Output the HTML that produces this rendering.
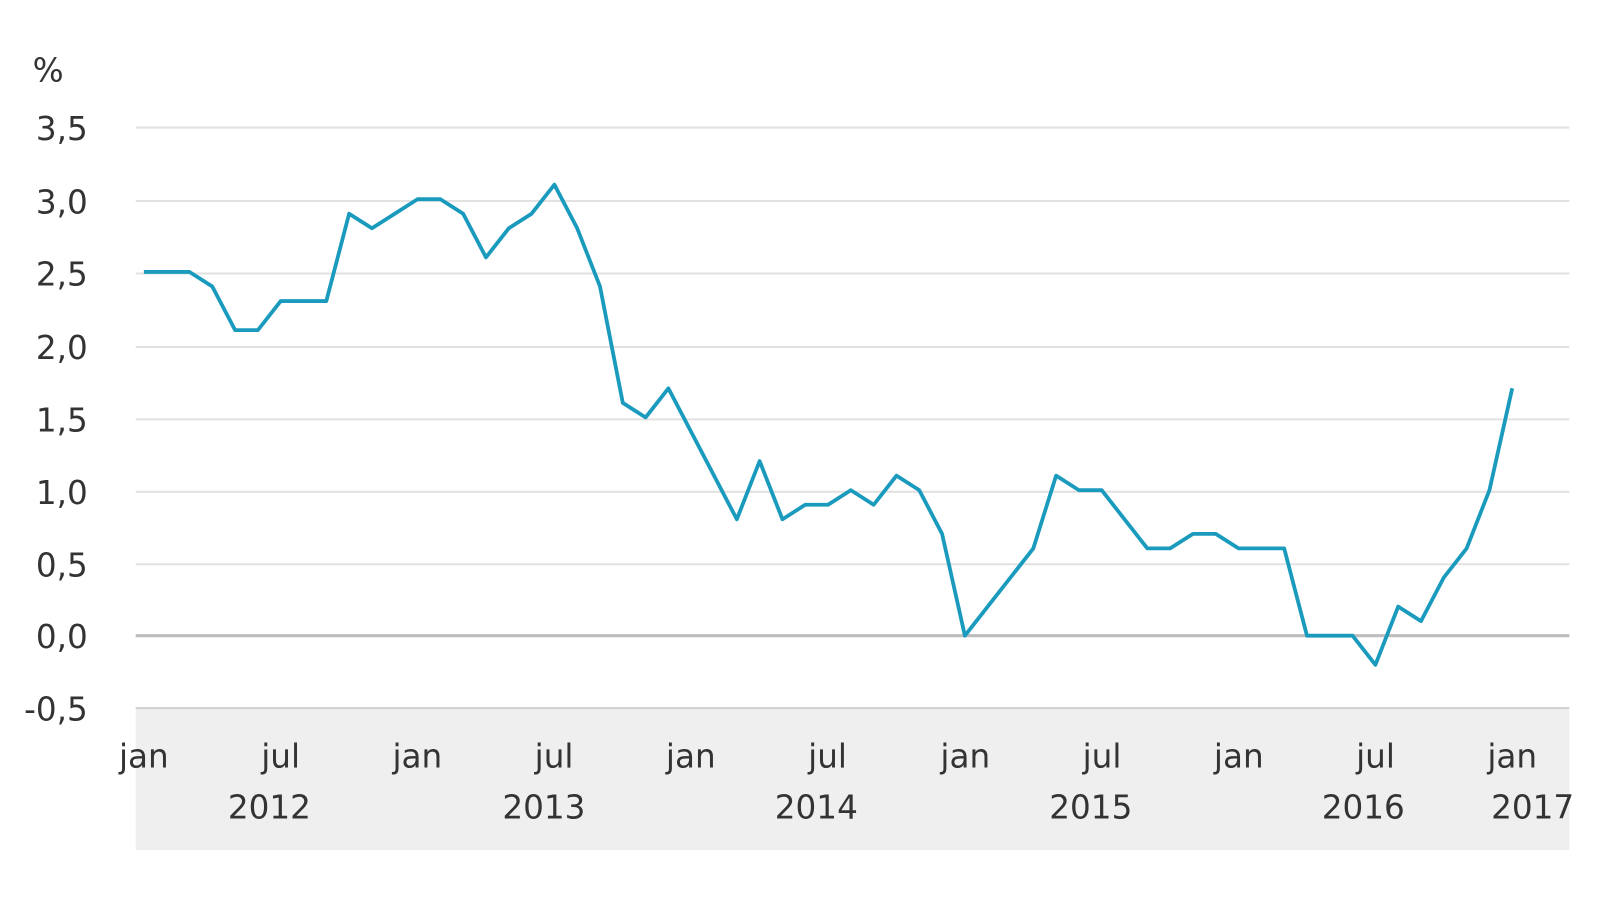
<!DOCTYPE html>
<html><head><meta charset="utf-8"><style>
html,body{margin:0;padding:0;background:#fff;}
svg{display:block;}
text{font-family:"DejaVu Sans","Liberation Sans",sans-serif;fill:#333;font-size:32px;}
</style></head><body>
<svg width="1600" height="900" viewBox="0 0 1600 900">
<g transform="scale(1.0204)">
<rect x="133" y="695" width="1405" height="138" fill="#efefef"/>
<g stroke="#e2e2e2" stroke-width="2">
<line x1="133" x2="1538" y1="125" y2="125"/>
<line x1="133" x2="1538" y1="197" y2="197"/>
<line x1="133" x2="1538" y1="268" y2="268"/>
<line x1="133" x2="1538" y1="340" y2="340"/>
<line x1="133" x2="1538" y1="411" y2="411"/>
<line x1="133" x2="1538" y1="482" y2="482"/>
<line x1="133" x2="1538" y1="553" y2="553"/>
</g>
<line x1="133" x2="1538" y1="694" y2="694" stroke="#cfcfcf" stroke-width="2"/>
<line x1="133" x2="1538" y1="623" y2="623" stroke="#bdbdbd" stroke-width="3"/>
<g text-anchor="end">
<text x="86" y="137">3,5</text>
<text x="86" y="209">3,0</text>
<text x="86" y="280">2,5</text>
<text x="86" y="352">2,0</text>
<text x="86" y="423">1,5</text>
<text x="86" y="494">1,0</text>
<text x="86" y="565">0,5</text>
<text x="86" y="635">0,0</text>
<text x="86" y="706">-0,5</text>
</g>
<text x="32" y="80">%</text>
<g text-anchor="middle">
<text x="141" y="752">jan</text>
<text x="275" y="752">jul</text>
<text x="409" y="752">jan</text>
<text x="543" y="752">jul</text>
<text x="677" y="752">jan</text>
<text x="811" y="752">jul</text>
<text x="946" y="752">jan</text>
<text x="1080" y="752">jul</text>
<text x="1214" y="752">jan</text>
<text x="1348" y="752">jul</text>
<text x="1482" y="752">jan</text>
<text x="264" y="802">2012</text>
<text x="533" y="802">2013</text>
<text x="800" y="802">2014</text>
<text x="1069" y="802">2015</text>
<text x="1336" y="802">2016</text>
<text x="1502" y="802">2017</text>
</g>
<g transform="translate(141,623) scale(22.35,-142.6)">
<polyline fill="none" stroke="#1a9bbd" stroke-width="3.8" stroke-linejoin="round" vector-effect="non-scaling-stroke" points="
0,2.5 1,2.5 2,2.5 3,2.4 4,2.1 5,2.1 6,2.3 7,2.3 8,2.3 9,2.9 10,2.8 11,2.9
12,3.0 13,3.0 14,2.9 15,2.6 16,2.8 17,2.9 18,3.1 19,2.8 20,2.4 21,1.6 22,1.5 23,1.7
24,1.4 25,1.1 26,0.8 27,1.2 28,0.8 29,0.9 30,0.9 31,1.0 32,0.9 33,1.1 34,1.0 35,0.7
36,0.0 37,0.2 38,0.4 39,0.6 40,1.1 41,1.0 42,1.0 43,0.8 44,0.6 45,0.6 46,0.7 47,0.7
48,0.6 49,0.6 50,0.6 51,0.0 52,0.0 53,0.0 54,-0.2 55,0.2 56,0.1 57,0.4 58,0.6 59,1.0
60,1.7"/>
</g>
</g>
</svg>
</body></html>
